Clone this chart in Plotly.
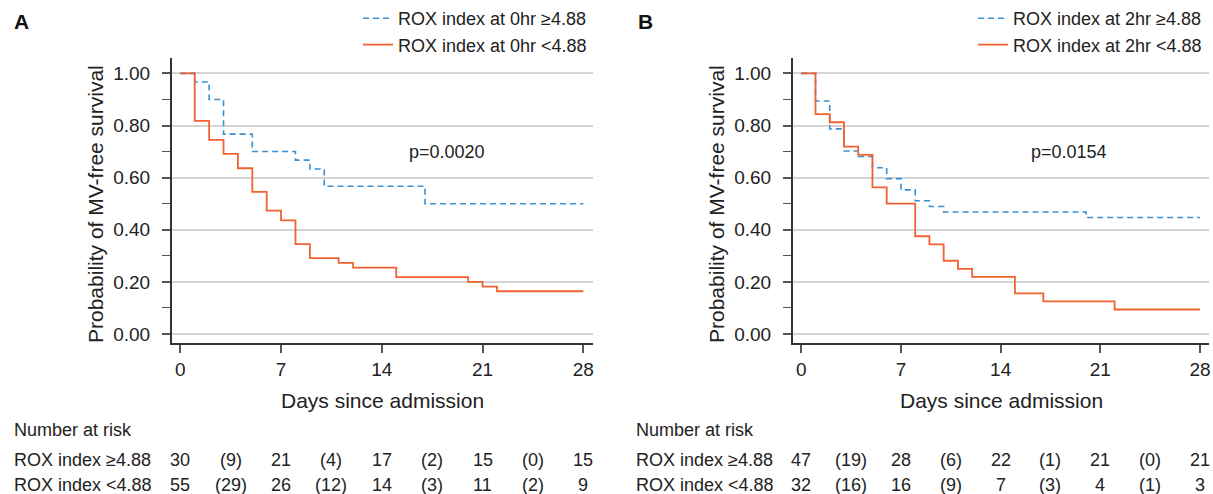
import plotly.graph_objects as go

# ---------------- data ----------------
days_A_hi = [0, 1, 2, 3, 5, 8, 9, 10, 17, 28]
surv_A_hi = [1.0, 0.967, 0.900, 0.767, 0.700, 0.667, 0.633, 0.567, 0.500, 0.500]
days_A_lo = [0, 1, 2, 3, 4, 5, 6, 7, 8, 9, 11, 12, 15, 20, 21, 22, 28]
surv_A_lo = [1.0, 0.818, 0.745, 0.691, 0.636, 0.545, 0.473, 0.436, 0.345, 0.291,
             0.273, 0.255, 0.218, 0.200, 0.182, 0.164, 0.164]

days_B_hi = [0, 1, 2, 3, 4, 5, 6, 7, 8, 9, 10, 20, 28]
surv_B_hi = [1.0, 0.894, 0.787, 0.702, 0.681, 0.638, 0.596, 0.553, 0.511, 0.489,
             0.468, 0.447, 0.447]
days_B_lo = [0, 1, 2, 3, 4, 5, 6, 8, 9, 10, 11, 12, 15, 17, 22, 28]
surv_B_lo = [1.0, 0.844, 0.8125, 0.719, 0.6875, 0.5625, 0.500, 0.375, 0.344, 0.281,
             0.250, 0.219, 0.156, 0.125, 0.094, 0.094]

risk_days = [0, 3.5, 7, 10.5, 14, 17.5, 21, 24.5, 28]
risk_A_hi = ["30", "(9)", "21", "(4)", "17", "(2)", "15", "(0)", "15"]
risk_A_lo = ["55", "(29)", "26", "(12)", "14", "(3)", "11", "(2)", "9"]
risk_B_hi = ["47", "(19)", "28", "(6)", "22", "(1)", "21", "(0)", "21"]
risk_B_lo = ["32", "(16)", "16", "(9)", "7", "(3)", "4", "(1)", "3"]

x_ticks = [0, 7, 14, 21, 28]
y_ticks = [0.0, 0.2, 0.4, 0.6, 0.8, 1.0]

names_A = ["ROX index at 0hr ≥4.88", "ROX index at 0hr <4.88"]
names_B = ["ROX index at 2hr ≥4.88", "ROX index at 2hr <4.88"]
row_labels = ["ROX index ≥4.88", "ROX index <4.88"]
p_A = "p=0.0020"
p_B = "p=0.0154"

# ---------------- style ----------------
BLUE = "#3b8fd0"
RED = "#f26130"
TXT = "#222222"
FONT = "Liberation Sans, Arial, Helvetica, sans-serif"
W, H = 1213, 494

fig = go.Figure()

def add_pair(xa, ya, legend, names, dh, sh, dl, sl):
    fig.add_trace(go.Scatter(x=dh, y=sh, mode="lines", line_shape="hv",
                             line=dict(color=BLUE, width=1.6, dash="6px,4px"),
                             name=names[0], xaxis=xa, yaxis=ya, legend=legend,
                             legendgroup=legend + "a"))
    fig.add_trace(go.Scatter(x=dl, y=sl, mode="lines", line_shape="hv",
                             line=dict(color=RED, width=1.8),
                             name=names[1], xaxis=xa, yaxis=ya, legend=legend,
                             legendgroup=legend + "b"))

add_pair("x", "y", "legend", names_A, days_A_hi, surv_A_hi, days_A_lo, surv_A_lo)
add_pair("x2", "y2", "legend2", names_B, days_B_hi, surv_B_hi, days_B_lo, surv_B_lo)

ydom = [1 - 343.3 / H, 1 - 58 / H]
axis_common = dict(showline=True, linecolor="#333333", linewidth=1.5,
                   ticks="outside", tickcolor="#555555", ticklen=8, tickwidth=1.5,
                   tickfont=dict(size=19, color=TXT, family=FONT), zeroline=False)

xcommon = dict(axis_common, tickvals=x_ticks, range=[-0.6, 28.65], showgrid=False)
ycommon = dict(axis_common, tickvals=y_ticks, tickformat=".2f", range=[-0.0357, 1.059],
               showgrid=True, gridcolor="#d4d4d4", gridwidth=1.5,
               minor=dict(dtick=0.1, tick0=0, ticks="outside", ticklen=8,
                          tickcolor="#555555", tickwidth=1.3, showgrid=False),
               ticklabelstandoff=8)

fig.update_layout(
    xaxis=dict(xcommon, domain=[171.7 / W, 592.7 / W], anchor="y"),
    yaxis=dict(ycommon, domain=ydom, anchor="x"),
    xaxis2=dict(xcommon, domain=[792.7 / W, 1209.3 / W], anchor="y2"),
    yaxis2=dict(ycommon, domain=ydom, anchor="x2"),
)

leg_common = dict(font=dict(size=18, color=TXT, family=FONT), bgcolor="rgba(0,0,0,0)",
                  xanchor="left", yanchor="top", tracegroupgap=8, itemwidth=30,
                  traceorder="normal")
fig.update_layout(
    legend=dict(leg_common, x=358 / W, y=1.0),
    legend2=dict(leg_common, x=973 / W, y=1.0),
)

ann = []
# panel letters
for letter, xp in [("A", 12), ("B", 636)]:
    ann.append(dict(text="<b>" + letter + "</b>", x=xp / W, y=1 - 22 / H, xref="paper",
                    yref="paper", xanchor="left", yanchor="middle", showarrow=False,
                    font=dict(size=21, color="#111111", family=FONT)))
# axis titles
for cx in [382, 1001]:
    ann.append(dict(text="Days since admission", x=cx / W, y=1 - 400 / H, xref="paper",
                    yref="paper", xanchor="center", yanchor="middle", showarrow=False,
                    font=dict(size=21, color=TXT, family=FONT)))
for cx in [95, 716]:
    ann.append(dict(text="Probability of MV-free survival", x=cx / W, y=1 - 204 / H,
                    xref="paper", yref="paper", xanchor="center", yanchor="middle",
                    textangle=-90, showarrow=False,
                    font=dict(size=21, color=TXT, family=FONT)))
# p-values
ann.append(dict(text=p_A, x=18.5, y=0.70, xref="x", yref="y", showarrow=False,
                font=dict(size=18, color=TXT, family=FONT)))
ann.append(dict(text=p_B, x=18.8, y=0.70, xref="x2", yref="y2", showarrow=False,
                font=dict(size=18, color=TXT, family=FONT)))

# risk tables
for xa, lx, rows in [("x", 12, [risk_A_hi, risk_A_lo]), ("x2", 634, [risk_B_hi, risk_B_lo])]:
    ann.append(dict(text="Number at risk", x=lx / W, y=1 - 430 / H, xref="paper",
                    yref="paper", xanchor="left", yanchor="middle", showarrow=False,
                    font=dict(size=18, color=TXT, family=FONT)))
    for ri, (lab, vals) in enumerate(zip(row_labels, rows)):
        yy = 1 - (460 + 25 * ri) / H
        ann.append(dict(text=lab, x=lx / W, y=yy, xref="paper", yref="paper",
                        xanchor="left", yanchor="middle", showarrow=False,
                        font=dict(size=18, color=TXT, family=FONT)))
        for d, v in zip(risk_days, vals):
            ann.append(dict(text=v, x=d, y=yy, xref=xa, yref="paper",
                            xanchor="center", yanchor="middle", showarrow=False,
                            font=dict(size=18, color=TXT, family=FONT)))

fig.update_layout(
    annotations=ann,
    width=W, height=H,
    margin=dict(l=0, r=0, t=0, b=0),
    paper_bgcolor="white", plot_bgcolor="white",
    font=dict(family=FONT, color=TXT),
)

fig.write_html("out.html", config={"displayModeBar": False},
               post_script="document.body.style.margin='0px';"
                           "document.body.style.overflow='hidden';")
